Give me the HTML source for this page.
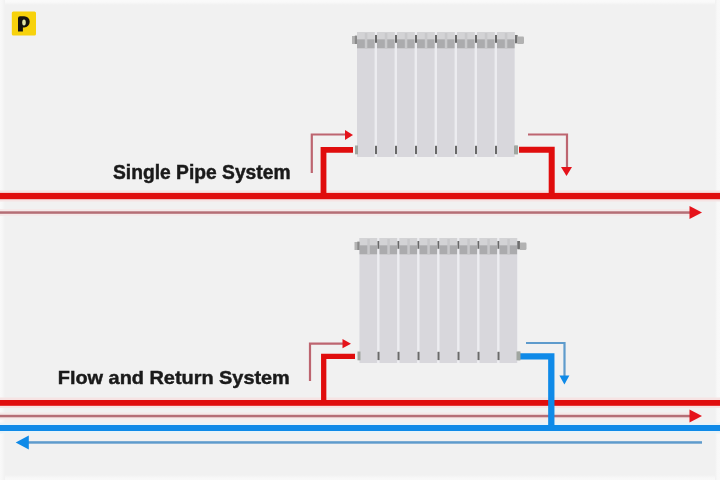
<!DOCTYPE html>
<html><head><meta charset="utf-8">
<style>
html,body{margin:0;padding:0;width:720px;height:480px;overflow:hidden;background:#f1f1f1;}
svg{display:block;position:absolute;left:0;top:0;filter:blur(0.4px);}
text{font-family:"Liberation Sans",sans-serif;font-weight:bold;fill:#1a1a1a;stroke:#1a1a1a;stroke-width:0.45px;}
</style></head><body>
<svg width="720" height="480" viewBox="0 0 720 480">
<defs>
  <linearGradient id="gt" x1="0" y1="0" x2="0" y2="1"><stop offset="0" stop-color="#fafafa"/><stop offset="0.4" stop-color="#f9f9f9"/><stop offset="1" stop-color="#f1f1f1"/></linearGradient>
  <linearGradient id="gb" x1="0" y1="1" x2="0" y2="0"><stop offset="0" stop-color="#f9f9f9"/><stop offset="0.4" stop-color="#f8f8f8"/><stop offset="1" stop-color="#f1f1f1"/></linearGradient>
  <linearGradient id="gl" x1="0" y1="0" x2="1" y2="0"><stop offset="0" stop-color="#f9f9f9"/><stop offset="0.4" stop-color="#f7f7f7"/><stop offset="1" stop-color="#f1f1f1"/></linearGradient>
  <linearGradient id="gr" x1="1" y1="0" x2="0" y2="0"><stop offset="0" stop-color="#f9f9f9"/><stop offset="0.5" stop-color="#f8f8f8"/><stop offset="1" stop-color="#f1f1f1"/></linearGradient>
  <g id="sec">
    <rect x="0" y="0" width="17.6" height="125" fill="#d8d7dc"/>
    <rect x="0" y="0" width="17.6" height="7.3" fill="#d3d3d5"/>
    <rect x="0" y="7.3" width="17.6" height="9" fill="#ababad"/>
    <rect x="7.8" y="1" width="2.5" height="15.3" fill="#c8c8ca"/>
    <rect x="18" y="3" width="2.3" height="7.8" fill="#6a6a6a"/>
    <rect x="18" y="113.8" width="2.5" height="8.3" fill="#6a6a6a"/>
  </g>
  <g id="rad">
    <rect x="0" y="0" width="158" height="125" fill="#ececf0"/>
    <use href="#sec" x="0"/><use href="#sec" x="20"/><use href="#sec" x="40"/><use href="#sec" x="60"/>
    <use href="#sec" x="80"/><use href="#sec" x="100"/><use href="#sec" x="120"/><use href="#sec" x="140"/>
    <rect x="-5" y="4" width="5" height="8" fill="#b4b4b4"/>
    <rect x="-2.2" y="3.6" width="2.2" height="8.4" fill="#8a8a8a"/>
    <rect x="158" y="3" width="2.4" height="8.3" fill="#707070"/>
    <path d="M160.4 4.6 H166 Q167 4.6 167 6 V10.6 Q167 12 166 12 H160.4 Z" fill="#b2b2b2"/>
    <rect x="-2" y="113.5" width="3" height="8.8" fill="#a0a6a0"/>
    <rect x="157" y="113.5" width="4" height="8.8" fill="#a0a6a0"/>
  </g>
</defs>
<rect x="0" y="0" width="720" height="480" fill="#f1f1f1"/>
<rect x="0" y="0" width="720" height="5" fill="url(#gt)"/>
<rect x="0" y="475" width="720" height="5" fill="url(#gb)"/>
<rect x="0" y="0" width="5" height="480" fill="url(#gl)"/>
<rect x="715" y="0" width="5" height="480" fill="url(#gr)"/>
<!-- logo -->
<rect x="11.8" y="11.4" width="24.2" height="24.2" rx="1.5" fill="#f7d20c"/>
<path d="M18 18.2 Q18 16.2 20 16.2 H24.2 A5.5 5.6 0 0 1 24.2 27.4 H22.9 V31.5 H18 Z" fill="#161410"/>
<ellipse cx="24" cy="22.6" rx="1.8" ry="3" fill="#e2e6a4"/>

<!-- TOP SYSTEM -->
<g>
 <rect x="0" y="190.5" width="720" height="11" fill="#f6e3e3"/>
 <rect x="0" y="209" width="700" height="7" fill="#f5e9e9"/>
 <rect x="0" y="192.9" width="720" height="6.3" fill="#e00d0d"/>
 <rect x="0" y="211.3" width="692" height="2.5" fill="#b56e76"/>
 <polygon points="689.5,206 702,212.5 689.5,219" fill="#e5121a"/>
 <path d="M323.5 196 V149.8 H353" fill="none" stroke="#e00d0d" stroke-width="5.8"/>
 <path d="M551.7 196 V149.8 H519" fill="none" stroke="#e00d0d" stroke-width="6"/>
 <path d="M311.8 173 V134.5 H347" fill="none" stroke="#bd6570" stroke-width="2.2"/>
 <polygon points="345,130 353,135 345,140" fill="#e5121a"/>
 <path d="M528 134.5 H567 V168" fill="none" stroke="#bd6570" stroke-width="2.2"/>
 <polygon points="561,167 572,167 566.5,176" fill="#e5121a"/>
</g>
<use href="#rad" x="357" y="32"/>
<text x="113" y="178.7" font-size="19.3" textLength="177.5" lengthAdjust="spacingAndGlyphs">Single Pipe System</text>

<!-- BOTTOM SYSTEM -->
<g>
 <rect x="0" y="397.5" width="720" height="10.5" fill="#f6e3e3"/>
 <rect x="0" y="412.5" width="700" height="7" fill="#f5e9e9"/>
 <rect x="0" y="422.5" width="720" height="11" fill="#e9f3f8"/>
 <rect x="0" y="400" width="720" height="5.8" fill="#e00d0d"/>
 <rect x="0" y="414.8" width="692" height="2.5" fill="#b56e76"/>
 <polygon points="689.5,409.5 702,416 689.5,422.5" fill="#e5121a"/>
 <rect x="0" y="425" width="720" height="6" fill="#0f8ae8"/>
 <rect x="26" y="441.2" width="676" height="2.5" fill="#5e9bcc"/>
 <polygon points="28.8,435.6 15.7,442.5 28.8,449.4" fill="#0f8ae8"/>
 <path d="M323.7 403 V356.3 H355" fill="none" stroke="#e00d0d" stroke-width="5.3"/>
 <path d="M310 381 V343.6 H345" fill="none" stroke="#bd6570" stroke-width="2.2"/>
 <polygon points="342.5,339 351,343.7 342.5,348.3" fill="#e5121a"/>
 <path d="M551.3 428 V356.4 H520" fill="none" stroke="#0f8ae8" stroke-width="6.3"/>
 <path d="M526 343 H564.5 V377" fill="none" stroke="#5e9bcc" stroke-width="2.2"/>
 <polygon points="559.4,375.6 569.4,375.6 564.4,384.4" fill="#0f8ae8"/>
</g>
<use href="#rad" x="359.5" y="238"/>
<text x="57.8" y="384.3" font-size="19" textLength="232" lengthAdjust="spacingAndGlyphs">Flow and Return System</text>
</svg>
</body></html>
